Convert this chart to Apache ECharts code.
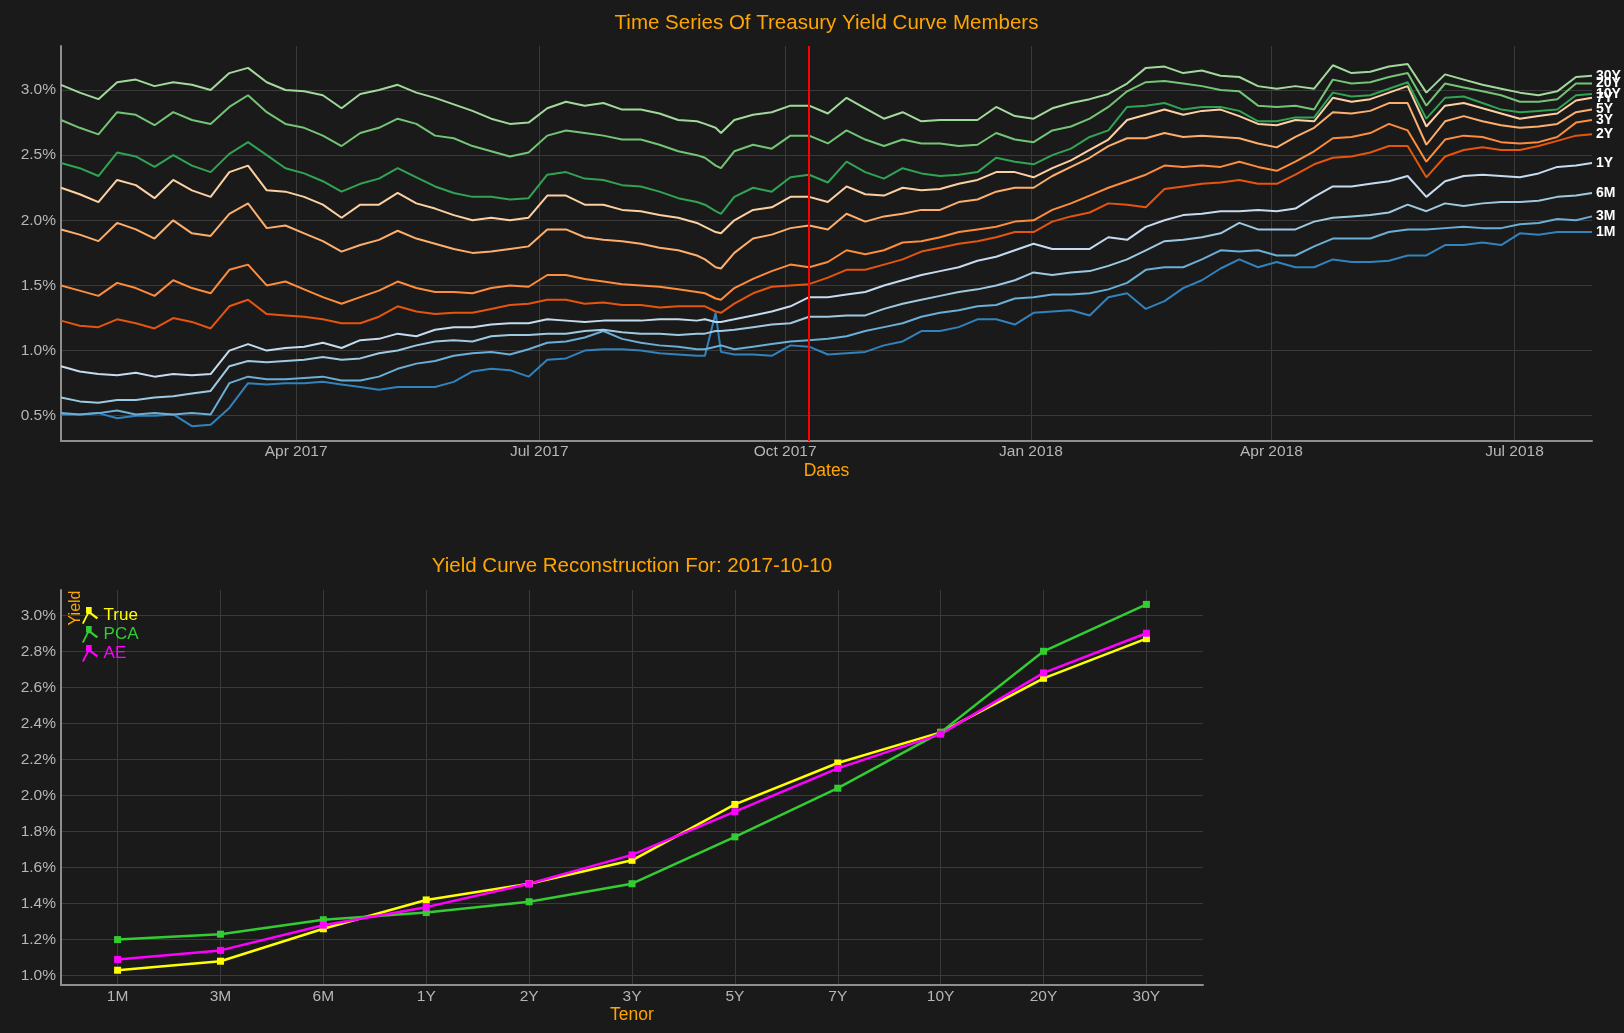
<!DOCTYPE html>
<html>
<head>
<meta charset="utf-8">
<script src="https://cdn.jsdelivr.net/npm/echarts@6/dist/echarts.min.js"></script>
<style>
html,body{margin:0;padding:0;background:#1a1a1a;}
#chart{width:1624px;height:1033px;}
</style>
</head>
<body>
<div id="chart"></div>
<script>
// ---------------- DATA ----------------
const dates = [
'2017-01-03','2017-01-10','2017-01-17','2017-01-24','2017-01-31','2017-02-07','2017-02-14','2017-02-21','2017-02-28','2017-03-07',
'2017-03-14','2017-03-21','2017-03-28','2017-04-04','2017-04-11','2017-04-18','2017-04-25','2017-05-02','2017-05-09','2017-05-16',
'2017-05-23','2017-05-30','2017-06-06','2017-06-13','2017-06-20','2017-06-27','2017-07-04','2017-07-11','2017-07-18','2017-07-25',
'2017-08-01','2017-08-08','2017-08-15','2017-08-22','2017-08-29',
'2017-09-01','2017-09-05','2017-09-07',
'2017-09-12','2017-09-19','2017-09-26','2017-10-03','2017-10-10','2017-10-17','2017-10-24','2017-10-31','2017-11-07','2017-11-14',
'2017-11-21','2017-11-28','2017-12-05','2017-12-12','2017-12-19',
'2017-12-26','2018-01-02','2018-01-09','2018-01-16','2018-01-23','2018-01-30','2018-02-06','2018-02-13','2018-02-20','2018-02-27',
'2018-03-06','2018-03-13','2018-03-20','2018-03-27','2018-04-03',
'2018-04-10','2018-04-17','2018-04-24','2018-05-01','2018-05-08','2018-05-15','2018-05-22','2018-05-29','2018-06-05','2018-06-12',
'2018-06-19','2018-06-26','2018-07-03','2018-07-10','2018-07-17','2018-07-24',
'2018-07-30'
];

const y30Y = [
3.04,2.98,2.93,3.06,3.08,3.03,3.06,3.04,3.00,3.13,3.17,3.06,3.00,2.99,2.96,2.86,2.97,3.00,3.04,2.98,
2.94,2.89,2.84,2.78,2.74,2.75,2.86,2.91,2.88,2.90,2.85,2.85,2.82,2.77,2.76,
2.74,2.71,2.67,
2.77,2.81,2.83,2.88,2.88,2.82,2.94,2.86,2.78,2.83,2.76,2.77,2.77,2.77,2.87,
2.80,2.78,2.86,2.90,2.93,2.97,3.05,3.17,3.18,3.13,3.15,3.11,3.10,3.03,3.01,
3.03,3.01,3.19,3.13,3.14,3.18,3.20,2.98,3.12,3.08,3.04,3.01,2.98,2.96,2.99,3.10,
3.11];
const y20Y = [
2.77,2.71,2.66,2.83,2.81,2.73,2.83,2.77,2.74,2.87,2.96,2.83,2.74,2.71,2.65,2.57,2.67,2.71,2.78,2.74,
2.65,2.63,2.57,2.53,2.49,2.52,2.65,2.69,2.67,2.65,2.62,2.62,2.58,2.53,2.50,
2.48,2.42,2.40,
2.53,2.58,2.55,2.65,2.65,2.59,2.69,2.62,2.57,2.62,2.59,2.59,2.57,2.58,2.67,
2.62,2.60,2.69,2.72,2.78,2.87,2.99,3.06,3.07,3.05,3.03,3.00,2.99,2.88,2.87,
2.88,2.85,3.08,3.05,3.06,3.10,3.13,2.88,3.05,3.02,2.99,2.96,2.91,2.91,2.93,3.05,
3.05];
const y10Y = [
2.44,2.40,2.34,2.52,2.49,2.41,2.50,2.42,2.37,2.51,2.60,2.50,2.40,2.36,2.30,2.22,2.28,2.32,2.40,2.33,
2.26,2.21,2.18,2.18,2.16,2.17,2.35,2.37,2.32,2.31,2.27,2.26,2.22,2.17,2.14,
2.12,2.07,2.05,
2.18,2.25,2.22,2.33,2.35,2.29,2.45,2.37,2.32,2.40,2.36,2.34,2.35,2.37,2.48,
2.45,2.43,2.50,2.55,2.64,2.69,2.87,2.88,2.90,2.85,2.87,2.87,2.84,2.76,2.76,
2.79,2.79,2.98,2.95,2.96,3.01,3.06,2.78,2.94,2.95,2.90,2.85,2.83,2.84,2.85,2.96,
2.97];
const y7Y = [
2.25,2.20,2.14,2.31,2.27,2.17,2.31,2.23,2.18,2.37,2.42,2.23,2.22,2.18,2.12,2.02,2.12,2.12,2.21,2.13,
2.09,2.04,2.00,2.02,2.00,2.02,2.19,2.19,2.12,2.12,2.08,2.07,2.04,2.02,1.98,
1.95,1.91,1.90,
2.00,2.08,2.10,2.18,2.18,2.14,2.26,2.20,2.19,2.25,2.23,2.24,2.28,2.31,2.37,
2.37,2.33,2.40,2.46,2.54,2.62,2.77,2.81,2.85,2.81,2.84,2.85,2.80,2.74,2.73,
2.77,2.76,2.94,2.91,2.93,2.98,3.03,2.72,2.88,2.90,2.86,2.82,2.78,2.80,2.82,2.92,
2.94];
const y5Y = [
1.93,1.89,1.84,1.98,1.93,1.86,2.00,1.90,1.88,2.05,2.13,1.94,1.96,1.90,1.84,1.76,1.81,1.85,1.92,1.86,
1.82,1.78,1.75,1.76,1.78,1.80,1.93,1.93,1.87,1.85,1.84,1.82,1.79,1.77,1.73,
1.70,1.64,1.63,
1.75,1.86,1.89,1.94,1.96,1.93,2.05,1.99,2.03,2.05,2.08,2.08,2.14,2.16,2.22,
2.25,2.25,2.34,2.41,2.48,2.57,2.63,2.63,2.67,2.64,2.65,2.64,2.63,2.59,2.56,
2.64,2.71,2.83,2.82,2.84,2.90,2.90,2.58,2.76,2.80,2.76,2.73,2.71,2.72,2.74,2.83,
2.85];
const y3Y = [
1.50,1.46,1.42,1.52,1.48,1.42,1.54,1.48,1.44,1.62,1.66,1.50,1.53,1.47,1.41,1.36,1.41,1.46,1.53,1.48,
1.45,1.45,1.44,1.48,1.50,1.49,1.58,1.58,1.55,1.53,1.51,1.50,1.49,1.47,1.45,
1.44,1.40,1.39,
1.48,1.55,1.61,1.66,1.64,1.68,1.77,1.74,1.77,1.83,1.84,1.87,1.91,1.93,1.95,
1.99,2.00,2.08,2.13,2.19,2.25,2.30,2.35,2.42,2.41,2.42,2.41,2.45,2.41,2.38,
2.45,2.53,2.63,2.64,2.67,2.74,2.69,2.45,2.62,2.65,2.64,2.60,2.59,2.60,2.64,2.75,
2.77];
const y2Y = [
1.23,1.19,1.18,1.24,1.21,1.17,1.25,1.22,1.17,1.34,1.39,1.28,1.27,1.26,1.24,1.21,1.21,1.26,1.34,1.30,
1.28,1.29,1.29,1.32,1.35,1.36,1.39,1.39,1.36,1.37,1.35,1.35,1.33,1.34,1.34,
1.34,1.30,1.29,
1.36,1.44,1.49,1.50,1.51,1.56,1.62,1.62,1.66,1.70,1.76,1.79,1.82,1.84,1.87,
1.91,1.91,1.99,2.03,2.06,2.13,2.12,2.10,2.24,2.26,2.28,2.29,2.31,2.28,2.28,
2.35,2.43,2.48,2.49,2.52,2.57,2.57,2.33,2.49,2.54,2.56,2.54,2.54,2.57,2.61,2.65,
2.66];
const y1Y = [
0.88,0.84,0.82,0.81,0.83,0.80,0.82,0.81,0.82,1.00,1.05,1.00,1.02,1.03,1.06,1.02,1.08,1.09,1.13,1.11,
1.16,1.18,1.18,1.20,1.21,1.21,1.24,1.23,1.22,1.23,1.23,1.23,1.24,1.24,1.23,
1.24,1.22,1.22,
1.24,1.27,1.30,1.34,1.41,1.41,1.43,1.45,1.50,1.54,1.58,1.61,1.64,1.69,1.72,
1.77,1.82,1.78,1.78,1.78,1.87,1.85,1.95,2.00,2.04,2.05,2.07,2.07,2.08,2.07,
2.09,2.18,2.26,2.26,2.28,2.30,2.34,2.18,2.30,2.34,2.35,2.34,2.33,2.36,2.41,2.42,
2.44];
const y6M = [
0.64,0.61,0.60,0.62,0.62,0.64,0.65,0.67,0.69,0.88,0.92,0.91,0.92,0.93,0.95,0.93,0.94,0.98,1.00,1.04,
1.07,1.08,1.07,1.11,1.12,1.12,1.13,1.13,1.15,1.16,1.14,1.13,1.13,1.12,1.13,
1.13,1.15,1.15,
1.16,1.18,1.20,1.21,1.26,1.26,1.27,1.27,1.32,1.36,1.39,1.42,1.45,1.47,1.50,
1.54,1.60,1.58,1.60,1.61,1.65,1.70,1.77,1.84,1.85,1.87,1.90,1.98,1.93,1.93,
1.93,1.99,2.02,2.03,2.04,2.06,2.12,2.07,2.13,2.11,2.13,2.14,2.14,2.15,2.18,2.19,
2.21];
const y3M = [
0.52,0.51,0.52,0.54,0.51,0.52,0.51,0.52,0.51,0.75,0.80,0.78,0.78,0.79,0.80,0.77,0.77,0.80,0.86,0.90,
0.92,0.96,0.98,0.99,0.97,1.01,1.06,1.07,1.10,1.15,1.09,1.06,1.04,1.03,1.01,
1.01,1.03,1.04,
1.01,1.03,1.05,1.07,1.08,1.09,1.11,1.15,1.18,1.21,1.26,1.29,1.31,1.34,1.35,
1.40,1.41,1.43,1.43,1.44,1.47,1.52,1.62,1.64,1.64,1.70,1.77,1.76,1.77,1.73,
1.73,1.80,1.86,1.86,1.86,1.91,1.93,1.93,1.94,1.95,1.94,1.94,1.97,1.98,2.01,2.00,
2.03];
const y1M = [
0.51,0.51,0.52,0.48,0.50,0.50,0.51,0.42,0.43,0.56,0.75,0.74,0.75,0.75,0.76,0.74,0.72,0.70,0.72,0.72,
0.72,0.76,0.84,0.86,0.85,0.80,0.93,0.94,1.00,1.01,1.01,1.00,0.98,0.97,0.96,
0.96,1.29,0.99,
0.97,0.97,0.96,1.04,1.03,0.97,0.98,0.99,1.04,1.07,1.15,1.15,1.18,1.24,1.24,
1.20,1.29,1.30,1.31,1.27,1.41,1.44,1.32,1.38,1.48,1.54,1.63,1.70,1.64,1.68,
1.64,1.64,1.70,1.68,1.68,1.69,1.73,1.73,1.81,1.81,1.83,1.81,1.90,1.89,1.91,1.91,
1.91];

const memberNames = ['1M','3M','6M','1Y','2Y','3Y','5Y','7Y','10Y','20Y','30Y'];
const memberValues = [y1M,y3M,y6M,y1Y,y2Y,y3Y,y5Y,y7Y,y10Y,y20Y,y30Y];
const monthTicks = ['2017-04-01','2017-07-01','2017-10-01','2018-01-01','2018-04-01','2018-07-01'];
const topYTicks = [0.5,1.0,1.5,2.0,2.5,3.0];
const selectedDate = '2017-10-10';

const tenorNames = ['1M','3M','6M','1Y','2Y','3Y','5Y','7Y','10Y','20Y','30Y'];
const tenorIndex = [0,1,2,3,4,5,6,7,8,9,10];
const curveTrue = [1.03,1.08,1.26,1.42,1.51,1.64,1.95,2.18,2.35,2.65,2.87];
const curvePCA  = [1.20,1.23,1.31,1.35,1.41,1.51,1.77,2.04,2.35,2.80,3.06];
const curveAE   = [1.09,1.14,1.28,1.38,1.51,1.67,1.91,2.15,2.34,2.68,2.90];
const bottomYTicks = [1.0,1.2,1.4,1.6,1.8,2.0,2.2,2.4,2.6,2.8,3.0];

// ---------------- STYLE ----------------
const FONT = "'Liberation Sans', Arial, Helvetica, sans-serif";
const BG = '#1a1a1a';
const ORANGE = '#ffa500';
const AXIS_COLOR = '#8e8e8e';
const GRID_COLOR = '#3a3a3a';
const LABEL_COLOR = '#b6b6b6';
const memberColors = ['#3182bd','#6baed6','#9ecae1','#c6dbef','#e6550d','#fd8d3c','#fdae6b','#fdd0a2','#31a354','#74c476','#a1d99b'];
const curveColors = {True:'#ffff00', PCA:'#33cc33', AE:'#ff00ff'};
const MONTHS = ['Jan','Feb','Mar','Apr','May','Jun','Jul','Aug','Sep','Oct','Nov','Dec'];

const W = 1624;
const topGrid = {left:61, right:32, top:46, height:395};
const botGrid = {left:61, width:1142, top:590, height:395};
const topCenterX = topGrid.left + (W - topGrid.left - topGrid.right)/2;
const botCenterX = botGrid.left + botGrid.width/2;

const toTime = s => Date.parse(s + 'T00:00:00Z');
const times = dates.map(toTime);
const monthTickTimes = monthTicks.map(toTime);

const chart = echarts.init(document.getElementById('chart'));

const axisLineStyle = {show:true, onZero:false, lineStyle:{color:AXIS_COLOR, width:2}};
const splitStyle = {show:true, lineStyle:{color:GRID_COLOR, width:1}};
const pct = v => v.toFixed(1) + '%';

const topSeries = memberNames.map((name, i) => ({
  type:'line', name:name, xAxisIndex:0, yAxisIndex:0,
  data: times.map((t, j) => [t, memberValues[i][j]]),
  showSymbol:false, symbol:'none',
  lineStyle:{width:2, color:memberColors[i]},
  itemStyle:{color:memberColors[i]},
  emphasis:{disabled:true},
  endLabel:{show:true, formatter:'{a}', color:'#ffffff', fontSize:14, fontWeight:'bold', distance:4, fontFamily:FONT},
  markLine: i === 0 ? {
    silent:true, symbol:['none','none'], label:{show:false},
    lineStyle:{color:'#ff0000', width:2, type:'solid'},
    data:[{xAxis: toTime(selectedDate)}]
  } : undefined
}));

const curves = [['True', curveTrue], ['PCA', curvePCA], ['AE', curveAE]];
const botSeries = curves.map(([name, vals]) => ({
  type:'line', name:name, xAxisIndex:1, yAxisIndex:1,
  data: vals.map((v, i) => [tenorIndex[i], v]),
  symbol:'rect', symbolSize:7, showAllSymbol:true,
  lineStyle:{width:2.5, color:curveColors[name]},
  itemStyle:{color:curveColors[name]},
  emphasis:{disabled:true}
}));

const option = {
  backgroundColor: BG,
  animation:false,
  textStyle:{fontFamily:FONT},
  grid:[topGrid, botGrid],
  graphic:[
    {type:'text', x:topCenterX, y:23, silent:true,
     style:{text:'Time Series Of Treasury Yield Curve Members', fill:ORANGE, fontSize:20.5, fontFamily:FONT, align:'center', verticalAlign:'middle'}},
    {type:'text', x:botCenterX, y:566, silent:true,
     style:{text:'Yield Curve Reconstruction For: ' + selectedDate, fill:ORANGE, fontSize:20.5, fontFamily:FONT, align:'center', verticalAlign:'middle'}},
    {type:'text', x:76, y:608, rotation:Math.PI/2, silent:true,
     style:{text:'Yield', fill:ORANGE, fontSize:16, fontFamily:FONT, align:'center', verticalAlign:'middle'}}
  ],
  legend:{
    data: curves.map(([name]) => ({name:name, textStyle:{color:curveColors[name]}})),
    orient:'vertical', left:82, top:607, padding:0,
    itemWidth:17, itemHeight:17, itemGap:2,
    icon:'path://M0,20 L6,8 L5,8 L5,0 L12,0 L12,7 L20,13 L18,15 L10,9 L8,9 L2,21 Z',
    selectedMode:false,
    textStyle:{fontSize:17, fontFamily:FONT}
  },
  xAxis:[
    {type:'value', gridIndex:0, min:times[0], max:times[times.length-1],
     name:'Dates', nameLocation:'middle', nameGap:21,
     nameTextStyle:{color:ORANGE, fontSize:17.5, fontFamily:FONT},
     axisLine:axisLineStyle,
     axisTick:{show:false, customValues:monthTickTimes},
     axisLabel:{customValues:monthTickTimes, color:LABEL_COLOR, fontSize:15.5, margin:3, fontFamily:FONT,
       formatter: v => { const d = new Date(v); return MONTHS[d.getUTCMonth()] + ' ' + d.getUTCFullYear(); }},
     splitLine:splitStyle},
    {type:'value', gridIndex:1, min:-0.55, max:10.55,
     name:'Tenor', nameLocation:'middle', nameGap:21,
     nameTextStyle:{color:ORANGE, fontSize:17.5, fontFamily:FONT},
     axisLine:axisLineStyle,
     axisTick:{show:false, customValues:tenorIndex},
     axisLabel:{customValues:tenorIndex, color:LABEL_COLOR, fontSize:15.5, margin:4, fontFamily:FONT,
       formatter: v => tenorNames[Math.round(v)]},
     splitLine:splitStyle}
  ],
  yAxis:[
    {type:'value', gridIndex:0, min:0.306, max:3.338,
     axisLine:axisLineStyle,
     axisTick:{show:false, customValues:topYTicks},
     axisLabel:{customValues:topYTicks, color:LABEL_COLOR, fontSize:15.5, margin:5, fontFamily:FONT, formatter:pct},
     splitLine:splitStyle},
    {type:'value', gridIndex:1, min:0.948, max:3.14,
     axisLine:axisLineStyle,
     axisTick:{show:false, customValues:bottomYTicks},
     axisLabel:{customValues:bottomYTicks, color:LABEL_COLOR, fontSize:15.5, margin:5, fontFamily:FONT, formatter:pct},
     splitLine:splitStyle}
  ],
  series: topSeries.concat(botSeries)
};

chart.setOption(option);
</script>
</body>
</html>
